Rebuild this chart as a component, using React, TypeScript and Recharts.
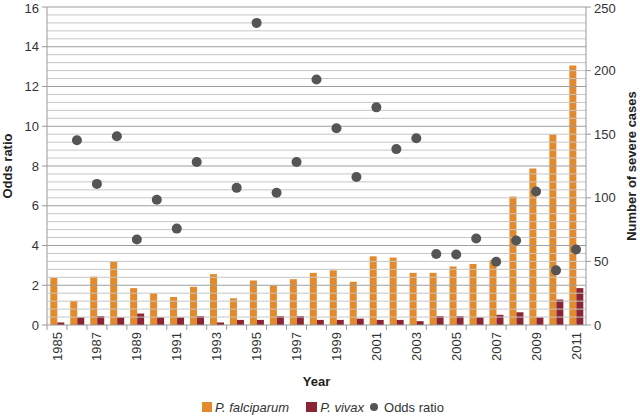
import React from 'react';
import { ComposedChart, Bar, Scatter, XAxis, YAxis, ReferenceLine, Legend } from 'recharts';

const years = ['1985','1986','1987','1988','1989','1990','1991','1992','1993','1994','1995','1996','1997','1998','1999','2000','2001','2002','2003','2004','2005','2006','2007','2008','2009','2010','2011'];
const falciparum = [37, 19, 38, 50, 29, 25, 22, 30, 40, 21, 35, 31, 36, 41, 43, 34, 54, 53, 41, 41, 46, 48, 51, 101, 123, 150, 204];
const vivax = [2, 6, 7, 6, 9, 6, 6, 7, 2, 4, 4, 7, 7, 4, 4, 5, 4, 4, 3, 7, 7, 6, 8, 10, 6, 20, 29];
const oddsRatio: (number | null)[] = [null, 9.3, 7.1, 9.5, 4.3, 6.3, 4.85, 8.2, null, 6.9, 15.2, 6.65, 8.2, 12.35, 9.9, 7.45, 10.95, 8.85, 9.4, 3.57, 3.55, 4.35, 3.18, 4.25, 6.72, 2.75, 3.8];

const leftTicks = [0, 2, 4, 6, 8, 10, 12, 14, 16];
const rightTicks = [0, 50, 100, 150, 200, 250];
const minorGrid = Array.from({ length: 40 }, (_, i) => +((i + 1) * 0.4).toFixed(1)).filter((v) => Math.abs(v / 2 - Math.round(v / 2)) > 1e-6);
const majorGrid = [2, 4, 6, 8, 10, 12, 14, 16];

const data = years.map((y, i) => ({ year: y, falciparum: falciparum[i], vivax: vivax[i], odds: oddsRatio[i] }));

const ORANGE = '#E38A2C';
const MAROON = '#8B2433';
const DOT = '#555555';
const AXIS = '#999999';
const FONT = '"Liberation Sans", Arial, sans-serif';

const CHART_W = 640;
const CHART_H = 418;
const LEFT_W = 47;
const RIGHT_W = 54;
const BAND = (CHART_W - LEFT_W - RIGHT_W) / years.length;

const XTick = (props: any) => {
  const { x, y, payload, index } = props;
  const lineY1 = y - 7;
  return (
    <g>
      <line x1={x - BAND / 2} y1={lineY1} x2={x - BAND / 2} y2={lineY1 + 5} stroke={AXIS} />
      {index % 2 === 0 && (
        <text
          x={x}
          y={y}
          transform={`rotate(-90, ${x}, ${y})`}
          textAnchor="end"
          dy="0.35em"
          fontSize={13}
          fill="#333"
          fontFamily={FONT}
        >
          {payload.value}
        </text>
      )}
    </g>
  );
};

const DotShape = (props: any) => {
  const { cx, cy, payload } = props;
  if (payload == null || payload.odds == null || cx == null || cy == null || isNaN(cx) || isNaN(cy)) return <g />;
  return <circle cx={cx} cy={cy} r={5} fill={DOT} />;
};

const LegendContent = () => (
  <div
    style={{
      height: 22,
      display: 'flex',
      justifyContent: 'center',
      alignItems: 'center',
      fontFamily: FONT,
      fontSize: 13,
      color: '#333',
      paddingLeft: 6,
    }}
  >
    <span style={{ display: 'flex', alignItems: 'center', marginRight: 17 }}>
      <span style={{ width: 10, height: 10, background: ORANGE, display: 'inline-block', marginRight: 3 }} />
      <i>P. falciparum</i>
    </span>
    <span style={{ display: 'flex', alignItems: 'center', marginRight: 6 }}>
      <span style={{ width: 11, height: 10, background: MAROON, display: 'inline-block', marginRight: 3 }} />
      <i>P. vivax</i>
    </span>
    <span style={{ display: 'flex', alignItems: 'center' }}>
      <span style={{ width: 8, height: 8, borderRadius: 4, background: DOT, display: 'inline-block', marginRight: 6 }} />
      <span>Odds ratio</span>
    </span>
  </div>
);

export default function App() {
  return (
    <div>
      <style>{`body{margin:0;}`}</style>
      <ComposedChart
        width={CHART_W}
        height={CHART_H}
        data={data}
        margin={{ top: 7, right: 0, left: 0, bottom: 0 }}
        barCategoryGap="16.5%"
        barGap={0}
      >
        {minorGrid.map((v) => (
          <ReferenceLine key={'mi' + v} y={v} yAxisId="left" stroke="#c6c6c6" strokeWidth={1} ifOverflow="extendDomain" />
        ))}
        {majorGrid.map((v) => (
          <ReferenceLine key={'ma' + v} y={v} yAxisId="left" stroke="#9e9e9e" strokeWidth={1} ifOverflow="extendDomain" />
        ))}
        <XAxis
          dataKey="year"
          interval={0}
          height={71}
          tickSize={5}
          tickMargin={2}
          tickLine={false}
          axisLine={{ stroke: AXIS }}
          tick={<XTick />}
          label={{ value: 'Year', position: 'insideBottom', offset: 10, style: { fontWeight: 'bold', fontSize: 13, fill: '#222', fontFamily: FONT } }}
        />
        <YAxis
          yAxisId="left"
          domain={[0, 16]}
          ticks={leftTicks}
          width={LEFT_W}
          tickSize={5}
          tickMargin={3}
          axisLine={{ stroke: AXIS }}
          tickLine={{ stroke: AXIS }}
          tick={{ fontSize: 13, fill: '#333', fontFamily: FONT }}
          label={{ value: 'Odds ratio', angle: -90, position: 'insideLeft', offset: 7, style: { textAnchor: 'middle', fontWeight: 'bold', fontSize: 13, fill: '#222', fontFamily: FONT } }}
        />
        <YAxis
          yAxisId="right"
          orientation="right"
          domain={[0, 250]}
          ticks={rightTicks}
          width={RIGHT_W}
          tickSize={5}
          tickMargin={3}
          axisLine={{ stroke: AXIS }}
          tickLine={{ stroke: AXIS }}
          tick={{ fontSize: 13, fill: '#333', fontFamily: FONT }}
          label={{ value: 'Number of severe cases', angle: -90, position: 'insideRight', offset: 9, style: { textAnchor: 'middle', fontWeight: 'bold', fontSize: 13, fill: '#222', fontFamily: FONT } }}
        />
        <Legend verticalAlign="bottom" content={<LegendContent />} />
        <Bar yAxisId="right" dataKey="falciparum" name="P. falciparum" fill={ORANGE} isAnimationActive={false} />
        <Bar yAxisId="right" dataKey="vivax" name="P. vivax" fill={MAROON} isAnimationActive={false} />
        <Scatter yAxisId="left" dataKey="odds" name="Odds ratio" fill={DOT} shape={<DotShape />} isAnimationActive={false} />
      </ComposedChart>
    </div>
  );
}
